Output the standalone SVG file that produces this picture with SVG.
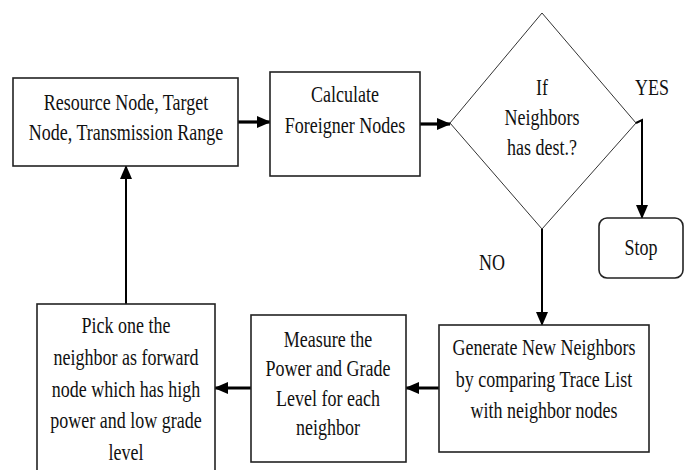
<svg xmlns="http://www.w3.org/2000/svg" width="687" height="470" viewBox="0 0 687 470">
<style>
.box{fill:#fff;stroke:#222;stroke-width:1.6}
.dia{fill:#fff;stroke:#333;stroke-width:1}
.t{font-family:'Liberation Serif','DejaVu Serif',serif;font-size:22.5px;fill:#111;text-anchor:middle}
.c{fill:none;stroke:#000}
.thick{stroke-width:3.2}
.thin{stroke-width:2}
</style>
<defs>
<marker id="ah" markerUnits="userSpaceOnUse" markerWidth="14" markerHeight="12" viewBox="0 0 14 12" refX="13" refY="6" orient="auto">
<path d="M0,0 L14,6 L0,12 Z" fill="#000"/>
</marker>
</defs>
<rect width="687" height="470" fill="#fff"/>
<g id="connectors">
<line class="c thick" x1="238" y1="122" x2="270" y2="122" marker-end="url(#ah)"/>
<line class="c thick" x1="420" y1="124" x2="450" y2="124" marker-end="url(#ah)"/>
<path class="c thin" d="M636,123 L642,120 L642,218" marker-end="url(#ah)"/>
<line class="c thin" x1="542" y1="229" x2="542" y2="325" marker-end="url(#ah)"/>
<line class="c thick" x1="439" y1="388" x2="406" y2="388" marker-end="url(#ah)"/>
<line class="c thick" x1="251" y1="388" x2="215" y2="388" marker-end="url(#ah)"/>
<line class="c thin" x1="126" y1="304" x2="126" y2="166" marker-end="url(#ah)"/>
</g>
<g id="resource">
<rect class="box" x="13" y="78" width="225" height="88"/>
<text class="t" transform="translate(126,110) scale(0.8,1)">Resource Node, Target</text>
<text class="t" transform="translate(126,140) scale(0.8,1)">Node, Transmission Range</text>
</g>
<g id="calculate">
<rect class="box" x="270" y="72" width="150" height="104"/>
<text class="t" transform="translate(345,102) scale(0.8,1)">Calculate</text>
<text class="t" transform="translate(345,133) scale(0.8,1)">Foreigner Nodes</text>
</g>
<g id="decision">
<polygon class="dia" points="542,13 636,123 542,229 450,123"/>
<text class="t" transform="translate(542,95) scale(0.8,1)">If</text>
<text class="t" transform="translate(542,125) scale(0.8,1)">Neighbors</text>
<text class="t" transform="translate(542,155) scale(0.8,1)">has dest.?</text>
</g>
<g id="labels">
<text class="t" transform="translate(652,95) scale(0.8,1)">YES</text>
<text class="t" transform="translate(492,270) scale(0.8,1)">NO</text>
</g>
<g id="stop">
<rect class="box" x="599" y="218" width="84" height="60" rx="8" ry="8"/>
<text class="t" transform="translate(641,255) scale(0.8,1)">Stop</text>
</g>
<g id="generate">
<rect class="box" x="439" y="325" width="210" height="127"/>
<text class="t" transform="translate(544,355) scale(0.8,1)">Generate New Neighbors</text>
<text class="t" transform="translate(544,387) scale(0.8,1)">by comparing Trace List</text>
<text class="t" transform="translate(544,418) scale(0.8,1)">with neighbor nodes</text>
</g>
<g id="measure">
<rect class="box" x="251" y="315" width="155" height="147"/>
<text class="t" transform="translate(328,347) scale(0.8,1)">Measure the</text>
<text class="t" transform="translate(328,376) scale(0.8,1)">Power and Grade</text>
<text class="t" transform="translate(328,406) scale(0.8,1)">Level for each</text>
<text class="t" transform="translate(328,435) scale(0.8,1)">neighbor</text>
</g>
<g id="pick">
<rect class="box" x="37" y="304" width="178" height="180"/>
<text class="t" transform="translate(126,333) scale(0.8,1)">Pick one the</text>
<text class="t" transform="translate(126,365) scale(0.8,1)">neighbor as forward</text>
<text class="t" transform="translate(126,397) scale(0.8,1)">node which has high</text>
<text class="t" transform="translate(126,428) scale(0.8,1)">power and low grade</text>
<text class="t" transform="translate(126,460) scale(0.8,1)">level</text>
</g>
</svg>
